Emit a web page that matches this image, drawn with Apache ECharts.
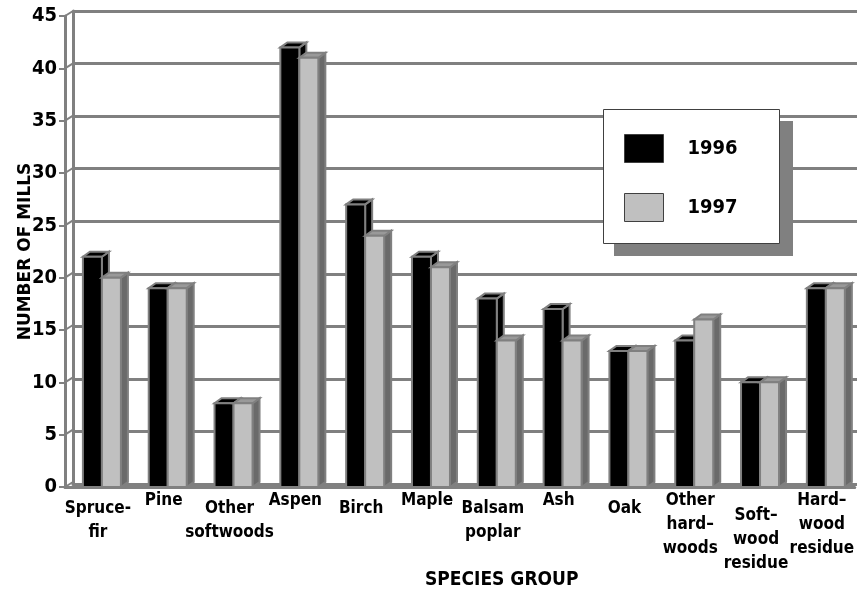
<!DOCTYPE html>
<html>
<head>
<meta charset="utf-8">
<script src="https://cdn.jsdelivr.net/npm/echarts@6/dist/echarts.min.js"></script>
<style>
html,body{margin:0;padding:0;background:#fff;}
#chart{width:857px;height:592px;}
</style>
</head>
<body>
<div id="chart"></div>
<script>
const categories = ['Spruce-\nfir', 'Pine', 'Other\nsoftwoods', 'Aspen', 'Birch', 'Maple', 'Balsam\npoplar', 'Ash', 'Oak', 'Other\nhard\u2013\nwoods', 'Soft\u2013\nwood\nresidue', 'Hard\u2013\nwood\nresidue'];
const values1996 = [22, 19, 8, 42, 27, 22, 18, 17, 13, 14, 10, 19];
const values1997 = [20, 19, 8, 41, 24, 21, 14, 14, 13, 16, 10, 19];
const seriesNames = ['1996', '1997'];
const yTicks = [0, 5, 10, 15, 20, 25, 30, 35, 40, 45];

const FONT = "'DejaVu Sans Condensed', 'DejaVu Sans', sans-serif";
const GRAY = '#808080';
const DX = 7, DY = -5, BW = 19;

function barRenderer(side, faceColor, topColor, sideColor) {
  return function (params, api) {
    const i = api.value(0), v = api.value(1);
    const top = api.coord([i, v]);
    const base = api.coord([i, 0]);
    const c = top[0] + 4;
    const x0 = side < 0 ? c - BW : c;
    const x1 = x0 + BW;
    const y0 = top[1], yb = base[1];
    const st = { stroke: GRAY, lineWidth: 2, lineJoin: 'miter' };
    return {
      type: 'group',
      children: [
        { type: 'polygon', shape: { points: [[x1, y0], [x1 + DX, y0 + DY], [x1 + DX, yb + DY], [x1, yb]] },
          style: Object.assign({ fill: sideColor }, st) },
        { type: 'polygon', shape: { points: [[x0, y0], [x0 + DX, y0 + DY], [x1 + DX, y0 + DY], [x1, y0]] },
          style: Object.assign({ fill: topColor }, st) },
        { type: 'rect', shape: { x: x0, y: y0, width: BW, height: yb - y0 },
          style: Object.assign({ fill: faceColor }, st) }
      ]
    };
  };
}

function labelPad(i) {
  if (i === 10) return 15;
  return i % 2 === 0 ? 8 : 0;
}

const chart = echarts.init(document.getElementById('chart'), null, { renderer: 'canvas' });
const option = {
  animation: false,
  backgroundColor: '#fff',
  title: {
    text: 'SPECIES GROUP', left: 425, top: 571, padding: 0,
    textStyle: { fontFamily: FONT, fontWeight: 'bold', fontSize: 19, color: '#000' }
  },
  legend: {
    orient: 'vertical', left: 624, top: 134, padding: 0, z: 10,
    itemWidth: 39, itemHeight: 28, itemGap: 30, icon: 'rect',
    textStyle: { fontFamily: FONT, fontWeight: 'bold', fontSize: 20, color: '#000', padding: [0, 0, 0, 19] },
    data: [
      { name: seriesNames[0], itemStyle: { color: '#000', borderColor: '#404040', borderWidth: 1 } },
      { name: seriesNames[1], itemStyle: { color: '#c0c0c0', borderColor: '#404040', borderWidth: 1 } }
    ]
  },
  graphic: [
    { type: 'rect', z: 5, shape: { x: 614, y: 121, width: 179, height: 135 }, style: { fill: GRAY } },
    { type: 'rect', z: 6, shape: { x: 603.5, y: 109.5, width: 176, height: 134 }, style: { fill: '#fff', stroke: '#404040', lineWidth: 1 } }
  ],
  grid: [
    { left: 73, top: 11, width: 792, bottom: 108 },
    { left: 65, top: 16, width: 792, bottom: 105 }
  ],
  xAxis: [
    { type: 'category', gridIndex: 0, data: categories,
      axisLine: { show: true, lineStyle: { color: GRAY, width: 3 } },
      axisTick: { show: false }, axisLabel: { show: false }, splitLine: { show: false } },
    { type: 'category', gridIndex: 1,
      data: categories.map((c, i) => ({ value: c, textStyle: { padding: [labelPad(i), 0, 0, 0] } })),
      axisLine: { show: true, lineStyle: { color: GRAY, width: 3 } },
      axisTick: { show: false },
      axisLabel: { interval: 0, margin: 2, fontFamily: FONT, fontWeight: 'bold', fontSize: 17, lineHeight: 24, color: '#000' },
      splitLine: { show: false } }
  ],
  yAxis: [
    { type: 'value', gridIndex: 0, min: 0, max: 45, interval: 5,
      axisLine: { show: true, lineStyle: { color: GRAY, width: 3 } },
      axisTick: { show: false }, axisLabel: { show: false },
      splitLine: { show: true, lineStyle: { color: GRAY, width: 3 } } },
    { type: 'value', gridIndex: 1, min: 0, max: 45, interval: 5,
      name: 'NUMBER OF MILLS', nameLocation: 'middle', nameGap: 31, nameRotate: 90, nameMoveOverlap: false,
      nameTextStyle: { fontFamily: "'DejaVu Sans', sans-serif", fontWeight: 'bold', fontSize: 17, color: '#000' },
      axisLine: { show: true, lineStyle: { color: GRAY, width: 3 } },
      axisTick: { show: true, length: 6, lineStyle: { color: GRAY, width: 2 } },
      axisLabel: { margin: 8, fontFamily: FONT, fontWeight: 'bold', fontSize: 20, color: '#000' },
      splitLine: { show: false } }
  ],
  series: [
    {
      type: 'custom', name: 'wall', xAxisIndex: 1, yAxisIndex: 1, silent: true, z: 1,
      data: yTicks.map(v => [0, v]),
      renderItem: function (params, api) {
        const y = api.coord([0, api.value(1)])[1];
        const x = params.coordSys.x;
        return { type: 'line', shape: { x1: x, y1: y, x2: x + 8, y2: y - 5 }, style: { stroke: GRAY, lineWidth: 2 } };
      }
    },
    {
      type: 'custom', name: seriesNames[0], xAxisIndex: 1, yAxisIndex: 1,
      itemStyle: { color: '#000' },
      data: values1996.map((v, i) => [i, v]),
      encode: { x: 0, y: 1 },
      renderItem: barRenderer(-1, '#000', '#000', '#000')
    },
    {
      type: 'custom', name: seriesNames[1], xAxisIndex: 1, yAxisIndex: 1,
      itemStyle: { color: '#c0c0c0' },
      data: values1997.map((v, i) => [i, v]),
      encode: { x: 0, y: 1 },
      renderItem: barRenderer(1, '#c0c0c0', '#999999', '#6a6a6a')
    }
  ]
};
chart.setOption(option);
</script>
</body>
</html>
